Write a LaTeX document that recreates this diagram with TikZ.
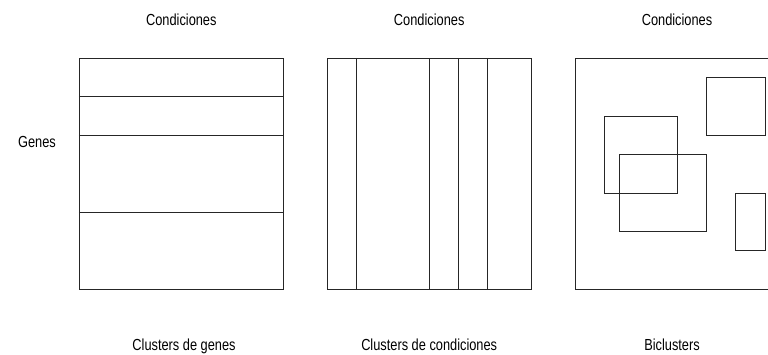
\documentclass[tikz,border=0pt]{standalone}
\usepackage{fontspec}
\setmainfont{Liberation Sans}[FakeStretch=0.8]
\usetikzlibrary{
    positioning,
    calc,
}

\begin{document}
\begin{tikzpicture}[
    x=0.75pt, y=-0.75pt,
    panel/.style={draw, rectangle, inner sep=0pt, line width=0.75pt,
                  color=black!85, minimum width=153pt, minimum height=173pt},
    caption/.style={font=\fontsize{12}{14}\selectfont, inner sep=0pt, anchor=base},
    cut/.style={line width=0.75pt, color=black!85}
]
\useasboundingbox (0,0) rectangle (768,354);

% the three matrices
\node[panel] (genes) at (181.3,173.7) {};
\node[panel] (conds) at (429.2,173.7) {};
\node[panel] (bic) at (677,173.7) {};

% clusters of genes: rows
\foreach \y in {96.7,135.3,212.3}
    \draw[cut] (genes.west |- 0,\y) -- (genes.east |- 0,\y);

% clusters of conditions: columns
\foreach \x in {356.3,429.3,458.3,487.7}
    \draw[cut] (conds.north -| \x,0) -- (conds.south -| \x,0);

% biclusters
\foreach \xa/\ya/\xb/\yb in {604.3/116/677.3/193.3, 619/154.3/706.3/231.7,
                             706.3/77.3/765/135.3, 735.3/193/765/250.7}
    \draw[cut] (\xa,\ya) rectangle (\xb,\yb);

% labels
\node[caption] (cgenes) at (genes.north |- 0,25.5) {Condiciones};
\node[caption] (cconds) at (conds.north |- 0,25.5) {Condiciones};
\node[caption] (cbic) at (bic.north |- 0,25.5) {Condiciones};
\node[caption] (rows) at (37,147) {Genes};

\node[caption] (lgenes) at (184,350.5) {Clusters de genes};
\node[caption] (lconds) at (conds.south |- 0,350.5) {Clusters de condiciones};
\node[caption] (lbic) at (672,350.5) {Biclusters};

\end{tikzpicture}
\end{document}
